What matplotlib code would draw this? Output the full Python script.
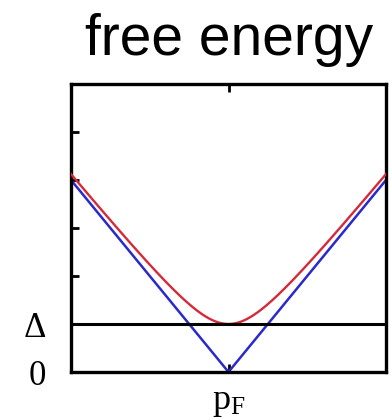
import matplotlib
matplotlib.use("Agg")
import matplotlib.pyplot as plt
import numpy as np

# momentum measured from p_F, energies in units of the gap
p = np.linspace(-1.0, 1.0, 401)
slope = 4.0
gap = 1.0
y_ticks = [0, 1, 2, 3, 4, 5]
y_labels = ["0", "\u0394", "", "", "", ""]
x_ticks = [0]
x_labels = [r"$\mathrm{p_F}$"]

normal = slope * np.abs(p)
paired = np.sqrt((slope * p) ** 2 + gap ** 2)

plt.rcParams["mathtext.fontset"] = "custom"
plt.rcParams["mathtext.rm"] = "Liberation Serif"
plt.rcParams["mathtext.it"] = "Liberation Serif:italic"

fig = plt.figure(figsize=(3.91, 4.19), dpi=100)
ax = fig.add_axes([71 / 391, 1 - 372 / 419, 315 / 391, 288 / 419])

ax.plot(p, normal, color="#2a2acc", lw=1.8, zorder=2)
ax.plot(p, paired, color="#d42a3a", lw=1.7, zorder=3)
ax.axhline(gap, color="black", lw=2.2, zorder=4)

ax.set_xlim(-1, 1)
ax.set_ylim(0, 6)
ax.set_yticks(y_ticks)
ax.set_yticklabels(y_labels, family="Liberation Serif", fontsize=25)
ax.set_xticks(x_ticks)
ax.set_xticklabels(x_labels, fontsize=26)
ax.tick_params(direction="in", length=6, width=2, pad=18, top=True)
ax.tick_params(axis="x", pad=9)
for s in ax.spines.values():
    s.set_linewidth(2.4)

fig.text(0.585, 0.905, "free energy", ha="center", va="center",
         family="Liberation Sans", fontsize=41)

fig.savefig("out.png", dpi=100)
